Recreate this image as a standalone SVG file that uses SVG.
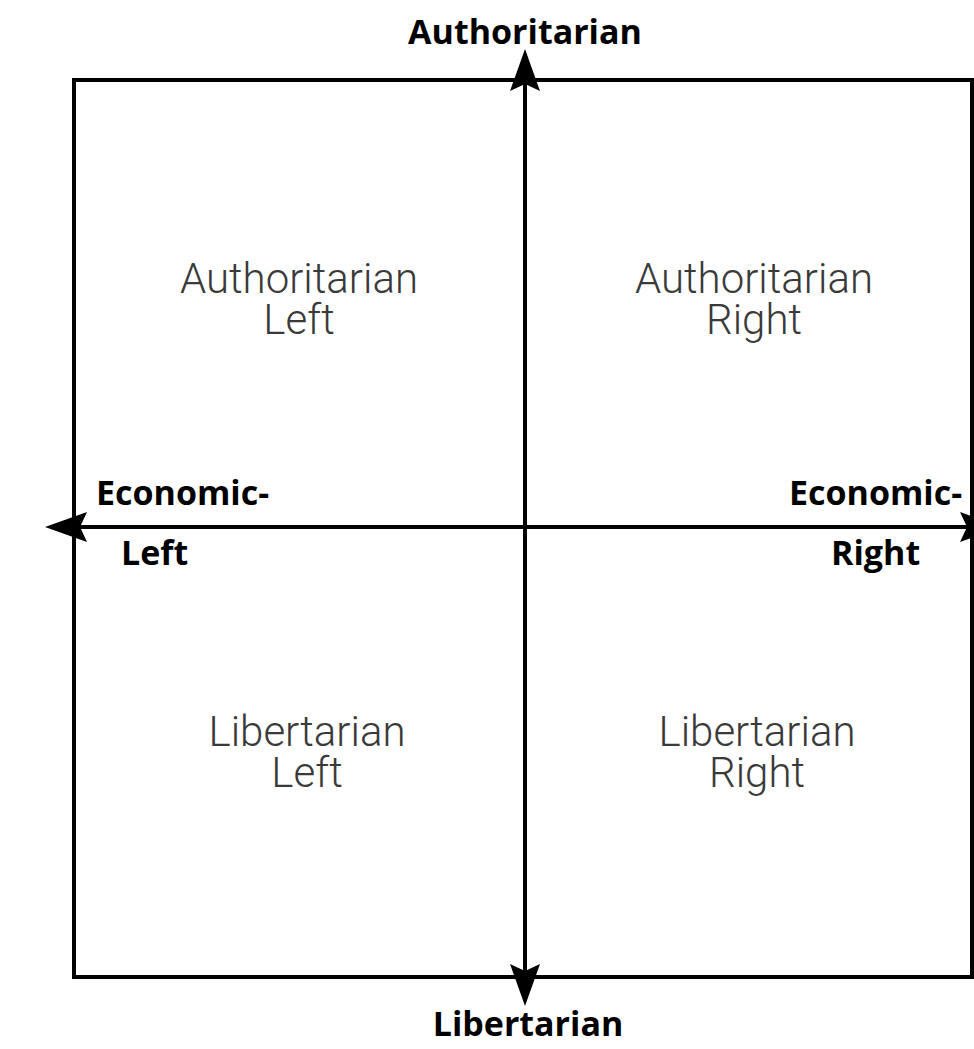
<svg xmlns="http://www.w3.org/2000/svg" width="974" height="1049" viewBox="0 0 974 1049">
<style>
.axis{font-family:"Open Sans","DejaVu Sans",sans-serif;font-weight:700;font-size:34px;fill:#000}
.quad{font-family:Roboto,"Liberation Sans",sans-serif;font-weight:300;font-size:42px;fill:#3a3a3a;text-anchor:middle}
.line{stroke:#000;stroke-width:4;fill:none}
</style>
<defs>
<path id="ah" d="M0,0 L-15,42 L0,35 L15,42 Z" fill="#000"/>
</defs>
<rect width="974" height="1049" fill="#fff"/>
<g id="frame"><path class="line" d="M74,80 H972 V977 H74 Z"/></g>
<g id="connectors">
<line class="line" x1="525" y1="80" x2="525" y2="985"/>
<line class="line" x1="60" y1="527" x2="974" y2="527"/>
<use href="#ah" transform="translate(525,49)"/>
<use href="#ah" transform="translate(525,1006) rotate(180)"/>
<use href="#ah" transform="translate(45,527) rotate(-90)"/>
<use href="#ah" transform="translate(1002,527) rotate(90)"/>
</g>
<g id="n-top"><text class="axis" x="525" y="44" text-anchor="middle">Authoritarian</text></g>
<g id="n-bottom"><text class="axis" x="528" y="1036" text-anchor="middle">Libertarian</text></g>
<g id="n-left"><text class="axis" x="96" y="505">Economic-</text><text class="axis" x="121" y="565">Left</text></g>
<g id="n-right"><text class="axis" x="789" y="505">Economic-</text><text class="axis" x="831" y="565">Right</text></g>
<g id="q-al"><text class="quad" x="299" y="293">Authoritarian</text><text class="quad" x="299" y="334">Left</text></g>
<g id="q-ar"><text class="quad" x="754" y="293">Authoritarian</text><text class="quad" x="754" y="334">Right</text></g>
<g id="q-ll"><text class="quad" x="307" y="746">Libertarian</text><text class="quad" x="307" y="787">Left</text></g>
<g id="q-lr"><text class="quad" x="757" y="746">Libertarian</text><text class="quad" x="757" y="787">Right</text></g>
</svg>
